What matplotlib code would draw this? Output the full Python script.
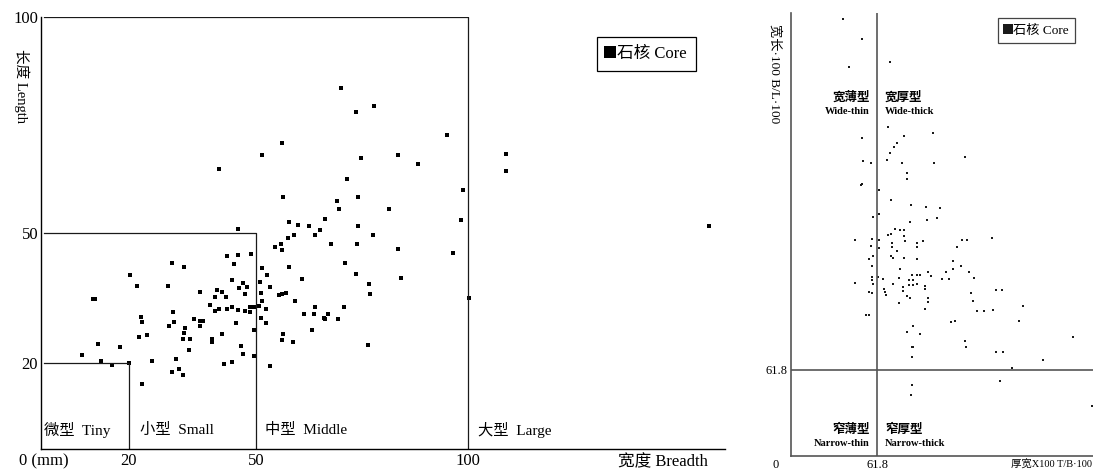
import numpy as np
import matplotlib
matplotlib.use("Agg")
import matplotlib.pyplot as plt

plt.rcParams['font.family'] = ['Liberation Serif', 'Noto Sans CJK SC']

# Datos del grafico izquierdo: anchura (x) y longitud (y) de los nucleos, en mm
core_breadth = [43.2, 45.8, 48.8, 44.8, 30.3, 33.0, 20.4, 22.0, 29.3, 11.5, 12.1, 44.3, 46.9, 46.1,
                47.8, 36.8, 40.7, 41.9, 47.4, 42.9, 40.4, 39.2, 40.3, 41.3, 43.1, 44.3, 45.7, 47.4,
                48.6, 49.6, 48.6, 30.5, 22.9, 23.1, 30.7, 29.6, 35.4, 36.8, 37.6, 36.8, 45.3, 33.3,
                33.0, 22.4, 24.3, 32.9, 34.4, 41.9, 49.5, 39.6, 39.7, 12.7, 18.0, 34.2, 46.5, 9.0,
                47.0, 49.5, 13.4, 16.0, 20.1, 25.5, 31.2, 42.4, 44.4, 31.9, 30.3, 32.9, 23.1, 69.0,
                69.6, 81.4, 98.3, 57.8, 59.9, 62.5, 66.2, 65.1, 63.8, 58.9, 57.5, 74.1, 77.5, 73.9,
                67.7, 56.0, 54.5, 56.2, 83.5, 96.5, 71.0, 73.6, 51.3, 57.7, 52.6, 60.9, 84.1, 76.6,
                77.0, 50.9, 53.4, 51.1, 55.4, 56.1, 57.0, 59.2, 51.4, 50.7, 52.3, 63.9, 70.7, 100.2,
                61.4, 63.7, 67.0, 66.1, 66.3, 69.4, 51.1, 52.3, 63.2, 56.4, 56.1, 58.8, 76.3, 53.4,
                70.0, 73.6, 77.8, 95.0, 56.2, 51.5, 83.5, 74.8, 88.2, 71.5, 98.8, 56.4, 74.1, 41.3,
                45.7, 109.0, 109.0, 156.8]
core_length = [44.7, 45.0, 45.1, 42.8, 43.1, 42.1, 40.3, 37.7, 37.7, 34.7, 34.8, 39.2, 38.5, 37.2,
               37.6, 36.3, 36.7, 36.3, 35.8, 35.1, 35.1, 33.3, 32.0, 32.3, 32.3, 32.8, 32.2, 32.0,
               32.8, 32.8, 31.6, 31.6, 30.6, 29.4, 29.4, 28.5, 30.0, 29.6, 29.6, 28.5, 29.1, 27.9,
               26.8, 25.9, 26.3, 25.4, 25.5, 26.6, 27.5, 25.5, 24.7, 24.2, 23.7, 23.0, 23.9, 21.7,
               22.0, 21.5, 20.4, 19.4, 19.8, 20.4, 20.8, 19.6, 20.1, 18.5, 17.8, 17.2, 15.0, 57.4,
               55.6, 55.6, 52.9, 52.5, 51.9, 51.6, 53.2, 50.7, 49.5, 49.6, 48.9, 51.6, 49.6, 47.5,
               47.4, 47.4, 46.7, 46.1, 46.4, 45.4, 43.1, 40.6, 42.0, 42.1, 40.3, 39.4, 39.5, 38.3,
               35.9, 38.6, 37.4, 36.2, 35.6, 35.8, 36.2, 34.3, 34.3, 33.2, 32.5, 32.9, 32.9, 35.0,
               31.2, 31.3, 31.2, 30.4, 30.0, 30.0, 30.3, 29.2, 27.6, 26.6, 25.2, 24.8, 24.1, 19.1,
               83.6, 77.9, 79.5, 72.8, 70.8, 68.0, 68.1, 67.4, 65.9, 62.4, 60.0, 58.3, 58.3, 64.8,
               50.9, 68.2, 64.4, 51.6]

# Limites de tamanio (microlitico, pequenio, mediano) y sus etiquetas
size_limits = [20, 50, 100]
size_labels = ['微型  Tiny', '小型  Small', '中型  Middle', '大型  Large']
size_label_x = [0.0, 22.6, 52.1, 102.4]

# Datos del grafico derecho: indice espesor/anchura (x) y anchura/longitud (y)
tb_index = [37.5, 50.6, 41.6, 70.8, 69.6, 80.8, 101.2, 50.6, 75.6, 73.6, 70.8, 68.9, 51.3, 56.9,
            79.1, 102.1, 124.2, 82.7, 82.7, 50.6, 50.1, 62.9, 71.5, 85.7, 96.1, 106.1, 62.9, 58.9,
            85.0, 97.4, 104.4, 74.3, 77.7, 80.9, 69.4, 71.5, 45.8, 57.7, 80.8, 143.7, 62.6, 72.0,
            72.0, 81.7, 89.7, 94.1, 90.0, 118.3, 121.9, 125.4, 63.2, 57.0, 75.6, 55.8, 58.9, 71.5,
            73.1, 80.8, 90.2, 58.2, 77.9, 115.5, 115.5, 121.4, 110.7, 127.3, 130.6, 97.6, 99.8,
            86.5, 90.2, 92.2, 77.4, 84.3, 87.4, 57.7, 57.7, 62.4, 65.6, 45.8, 58.9, 73.1, 80.3,
            80.3, 84.5, 87.4, 90.2, 95.7, 95.7, 107.6, 113.0, 66.5, 67.2, 67.9, 56.0, 57.7, 83.1,
            85.0, 77.2, 97.6, 97.6, 95.7, 128.7, 130.1, 146.3, 150.4, 132.6, 137.8, 144.4, 165.4,
            162.9, 53.7, 56.0, 114.0, 117.1, 87.4, 83.1, 92.2, 124.2, 124.9, 86.2, 87.4, 86.2,
            146.3, 151.1, 201.4, 180.0, 157.5, 149.2, 86.2, 85.5, 214.5]
bl_index = [313.9, 299.4, 279.2, 283.3, 236.6, 229.9, 232.0, 228.1, 224.6, 222.2, 217.5, 212.6,
            211.6, 210.1, 210.5, 210.1, 215.0, 203.5, 198.8, 195.2, 194.3, 191.1, 183.9, 180.3,
            178.5, 177.8, 173.5, 171.5, 168.1, 169.3, 171.3, 163.4, 162.1, 162.1, 158.8, 159.5,
            155.2, 156.1, 157.7, 156.8, 154.8, 153.0, 150.1, 154.1, 153.0, 154.2, 150.1, 150.1,
            155.0, 155.0, 149.2, 150.9, 147.5, 141.3, 143.7, 143.7, 142.0, 142.0, 141.3, 136.5,
            134.1, 140.3, 134.1, 136.5, 132.0, 132.0, 128.1, 132.0, 129.3, 130.0, 130.0, 130.0,
            127.7, 126.4, 126.4, 128.8, 126.4, 128.8, 126.9, 124.5, 123.3, 123.6, 121.6, 118.5,
            122.8, 122.8, 123.6, 122.1, 120.2, 126.9, 126.9, 119.8, 118.0, 115.7, 117.6, 116.9,
            114.9, 113.3, 109.7, 113.3, 110.8, 105.4, 116.9, 111.6, 119.3, 119.3, 104.4, 104.4,
            104.9, 108.0, 97.2, 101.3, 101.3, 96.5, 97.0, 93.4, 89.3, 87.4, 82.8, 78.5, 78.1,
            78.1, 70.9, 74.9, 74.9, 85.3, 69.0, 63.4, 54.1, 51.0, 43.8, 35.9]

golden = 61.8  # Limite entre tipos (61.8)


def graph_size(ax):
    """
    Grafico de longitud vs anchura con las zonas de tamanio
    """
    ax.plot(core_breadth, core_length, 's', ms=3.2, color='black', mew=0, label='石核 Core')
    for b in size_limits:  #Cuadros de cada categoria
        ax.plot([0, b, b], [b, b, 0], color='#1a1a1a', lw=0.9)
    for lab, x in zip(size_labels, size_label_x):
        ax.text(x, 4.3, lab, fontsize=11, ha='left', va='center')
    ax.set_xlim(-0.7, 160.6)
    ax.set_ylim(0, 100)
    for s in ['top', 'right']:
        ax.spines[s].set_visible(False)
    for s in ['left', 'bottom']:
        ax.spines[s].set_linewidth(1.0)
    ax.set_xticks([0, 20, 50, 100], ['0 (mm)', '20', '50', '100'])
    ax.set_yticks([20, 50, 100], ['20', '50', '100'])
    ax.tick_params(length=0, labelsize=12)
    ax.tick_params(axis='x', pad=3)
    ax.tick_params(axis='y', pad=2)
    ax.text(146, -3.0, '宽度 Breadth', fontsize=12, ha='center', va='center', clip_on=False)
    ax.text(-5.2, 84, '长度 Length', fontsize=10.5, rotation=-90, ha='center', va='center',
            clip_on=False)
    leg = ax.legend(loc='upper left', bbox_to_anchor=(0.813, 0.954), borderaxespad=0,
                    fancybox=False, edgecolor='black', markerscale=2.6, handlelength=0.5,
                    handletextpad=0.15, fontsize=12, borderpad=0.55, framealpha=1)
    leg.get_frame().set_linewidth(0.9)


def graph_shape(ax):
    """
    Grafico de los indices de forma con los cuatro tipos
    """
    ax.plot(tb_index, bl_index, 's', ms=2.1, color='#1a1a1a', mew=0, label='石核 Core')
    ax.axvline(golden, color='#555555', lw=1.2)
    ax.axhline(golden, color='#555555', lw=1.2)
    ax.set_xlim(0, 215.5)
    ax.set_ylim(0, 318.2)
    for s in ['top', 'right']:
        ax.spines[s].set_visible(False)
    for s in ['left', 'bottom']:
        ax.spines[s].set_color('#555555')
        ax.spines[s].set_linewidth(1.2)
    ax.set_xticks([golden], ['61.8'])
    ax.set_yticks([golden], ['61.8'])
    ax.tick_params(length=0, labelsize=9, pad=2)
    ax.text(-10.5, -6.5, '0', fontsize=9, ha='center', va='center', clip_on=False)
    ax.text(214.5, -6.5, '厚宽X100 T/B·100', fontsize=7.5, ha='right', va='center', clip_on=False)
    ax.text(-11.2, 275, '宽长·100 B/L·100', fontsize=9.5, rotation=-90, ha='center',
            va='center', clip_on=False)
    # Etiquetas de los cuadrantes
    quad = [(56.5, 257.2, 247.1, 'right', '宽薄型', 'Wide-thin'),
            (67.2, 257.2, 247.1, 'left', '宽厚型', 'Wide-thick'),
            (56.5, 18.7, 9.3, 'right', '窄薄型', 'Narrow-thin'),
            (67.2, 18.7, 9.3, 'left', '窄厚型', 'Narrow-thick')]
    for x, y1, y2, ha, zh, en in quad:
        ax.text(x, y1, zh, fontsize=9, ha=ha, va='center', fontweight='bold')
        ax.text(x, y2, en, fontsize=7.5, ha=ha, va='center', fontweight='bold')
    leg = ax.legend(loc='upper left', bbox_to_anchor=(0.686, 0.989), borderaxespad=0,
                    fancybox=False, edgecolor='#444444', markerscale=3.6, handlelength=0.5,
                    handletextpad=0.15, fontsize=9.5, borderpad=0.5, framealpha=1)
    leg.get_frame().set_linewidth(0.9)


fig = plt.figure(figsize=(10.93, 4.70), dpi=100)
ax1 = fig.add_axes([41 / 1093, 21 / 470, 684 / 1093, 432 / 470])
ax2 = fig.add_axes([790.7 / 1093, 14 / 470, 302.3 / 1093, 443 / 470])
graph_size(ax1)
graph_shape(ax2)
fig.savefig("out.png", dpi=100)
